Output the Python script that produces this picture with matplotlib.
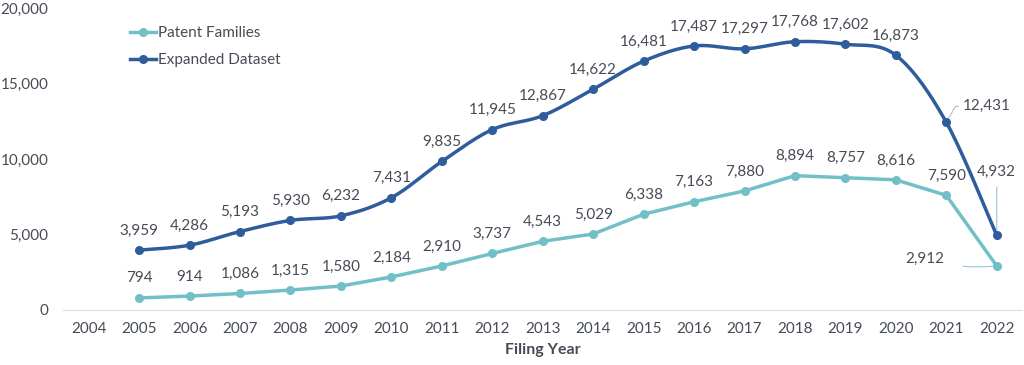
import numpy as np
import matplotlib.pyplot as plt

plt.rcParams['font.family'] = ['Lato', 'DejaVu Sans']

years = list(range(2004, 2023))
data_years = list(range(2005, 2023))
patent_families = [794, 914, 1086, 1315, 1580, 2184, 2910, 3737, 4543, 5029,
                   6338, 7163, 7880, 8894, 8757, 8616, 7590, 2912]
expanded = [3959, 4286, 5193, 5930, 6232, 7431, 9835, 11945, 12867, 14622,
            16481, 17487, 17297, 17768, 17602, 16873, 12431, 4932]

teal = '#72c0c7'
navy = '#2f5c9c'
txt = '#464c55'
lead = '#9cc3d8'


def smooth(x, y, n=20):
    # excel-like smoothed line (cardinal bezier), scaled so both axes count evenly
    x = np.asarray(x, float)
    y = np.asarray(y, float)
    sy = 2500.0
    ys = y / sy
    px, py = [], []
    for i in range(len(x) - 1):
        x0, y0 = (x[i - 1], ys[i - 1]) if i > 0 else (x[i], ys[i])
        x3, y3 = (x[i + 2], ys[i + 2]) if i + 2 < len(x) else (x[i + 1], ys[i + 1])
        x1, y1 = x[i], ys[i]
        x2, y2 = x[i + 1], ys[i + 1]
        c1 = (x1 + (x2 - x0) / 6, y1 + (y2 - y0) / 6)
        c2 = (x2 - (x3 - x1) / 6, y2 - (y3 - y1) / 6)
        t = np.linspace(0, 1, n)
        bx = (1 - t) ** 3 * x1 + 3 * (1 - t) ** 2 * t * c1[0] + 3 * (1 - t) * t ** 2 * c2[0] + t ** 3 * x2
        by = (1 - t) ** 3 * y1 + 3 * (1 - t) ** 2 * t * c1[1] + 3 * (1 - t) * t ** 2 * c2[1] + t ** 3 * y2
        px.extend(bx)
        py.extend(by)
    return np.array(px), np.array(py) * sy


fig = plt.figure(figsize=(10.24, 3.65), dpi=100)
ax = fig.add_axes([0.062, 0.151, 0.936, 0.827])

xi = np.array([years.index(y) for y in data_years])

ax.plot(xi, patent_families, color=teal, lw=2.5, marker='o', ms=5.5,
        label='Patent Families', zorder=3)
sx, sy_ = smooth(xi, expanded)
ax.plot(sx, sy_, color=navy, lw=2.5, zorder=4)
ax.plot(xi, expanded, color=navy, lw=0, marker='o', ms=5.5, zorder=5)
ax.plot([], [], color=navy, lw=2.5, marker='o', ms=5.5, label='Expanded Dataset')

fs = 11
for i, v in enumerate(patent_families):
    if data_years[i] == 2022:
        ax.annotate(f'{v:,}', (xi[i], v), xytext=(-52, 5), textcoords='offset points',
                    ha='center', va='center', fontsize=fs, color=txt,
                    arrowprops=dict(arrowstyle='-', color=lead, lw=0.8,
                                    connectionstyle='arc3,rad=0.1', shrinkA=12, shrinkB=3))
    else:
        ax.annotate(f'{v:,}', (xi[i], v), xytext=(0, 14), textcoords='offset points',
                    ha='center', va='center', fontsize=fs, color=txt)

for i, v in enumerate(expanded):
    if data_years[i] == 2021:
        ax.annotate(f'{v:,}', (xi[i], v), xytext=(29, 11.5), textcoords='offset points',
                    ha='center', va='center', fontsize=fs, color=txt,
                    arrowprops=dict(arrowstyle='-', color=lead, lw=0.8,
                                    connectionstyle='angle,angleA=0,angleB=60', shrinkA=1, shrinkB=2))
    elif data_years[i] == 2022:
        ax.annotate(f'{v:,}', (xi[i], v), xytext=(0, 46), textcoords='offset points',
                    ha='center', va='center', fontsize=fs, color=txt,
                    arrowprops=dict(arrowstyle='-', color=lead, lw=0.8, shrinkA=4, shrinkB=4))
    else:
        ax.annotate(f'{v:,}', (xi[i], v), xytext=(0, 14), textcoords='offset points',
                    ha='center', va='center', fontsize=fs, color=txt)

ax.set_xlim(-0.5, len(years) - 0.5)
ax.set_ylim(0, 20000)
ax.set_xticks(range(len(years)))
ax.set_xticklabels([str(y) for y in years])
ax.set_yticks([0, 5000, 10000, 15000, 20000])
ax.set_yticklabels(['0', '5,000', '10,000', '15,000', '20,000'])
ax.tick_params(length=0, labelsize=fs, labelcolor=txt)
ax.tick_params(axis='x', pad=9)
ax.tick_params(axis='y', pad=11)
for s in ['top', 'right', 'left']:
    ax.spines[s].set_visible(False)
ax.spines['bottom'].set_color('#d6e0ea')
ax.set_xlabel('Filing Year', fontsize=11.5, fontweight='bold', color=txt, labelpad=5)

ax.legend(loc='upper left', bbox_to_anchor=(0.055, 0.985), frameon=False,
          fontsize=fs, labelcolor=txt, handlelength=1.7, handletextpad=0.15,
          labelspacing=0.85)

fig.savefig('out.png', dpi=100)
